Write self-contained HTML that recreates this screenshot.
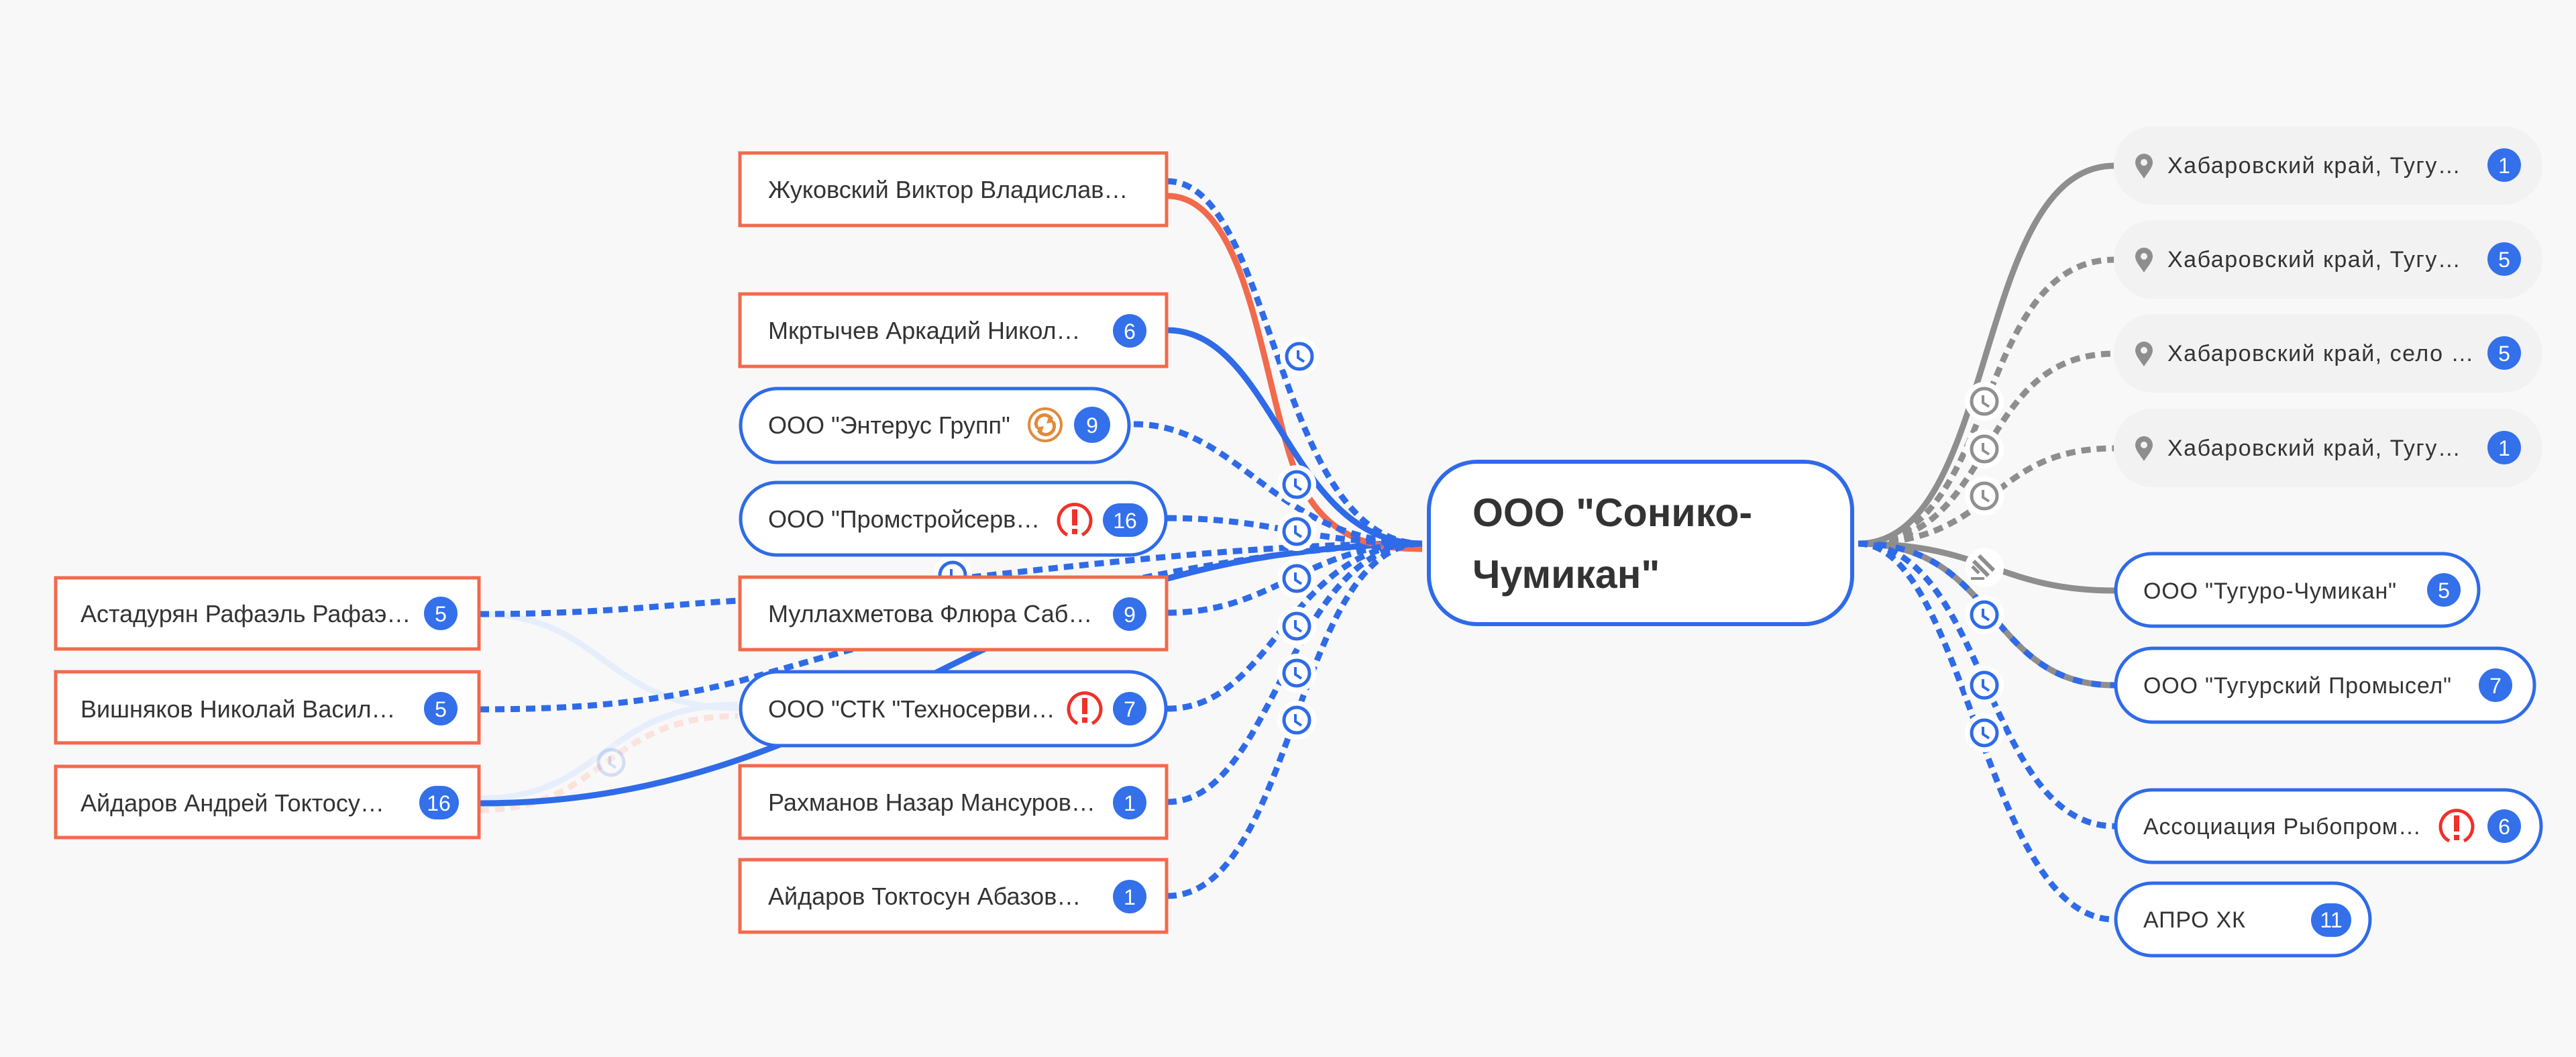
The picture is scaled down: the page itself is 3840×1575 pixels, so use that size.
<!DOCTYPE html>
<html><head><meta charset="utf-8"><style>
html,body{margin:0;padding:0;background:#f8f8f8}
svg{display:block}
text{font-family:"Liberation Sans",sans-serif}
</style></head><body>
<svg width="3840" height="1575" viewBox="0 0 3840 1575" xmlns="http://www.w3.org/2000/svg">
<defs>
<g id="clk"><circle r="29" fill="#fff"/><circle r="19" fill="#fff" stroke="#2f6be8" stroke-width="5"/><path d="M-2,-9 L-2,2 L7,8" fill="none" stroke="#2f6be8" stroke-width="4"/></g>
<g id="clkg"><circle r="29" fill="#fff"/><circle r="19" fill="#fff" stroke="#909090" stroke-width="5"/><path d="M-2,-9 L-2,2 L7,8" fill="none" stroke="#909090" stroke-width="4"/></g>
<g id="warn"><path d="M-11,22 A24,24 0 1 1 11,22" fill="none" stroke="#f0302a" stroke-width="5"/><rect x="-4" y="-16" width="8" height="24" fill="#f0302a"/><rect x="-4" y="13" width="8" height="8" fill="#f0302a"/></g>
<g id="pin"><path d="M0,20 C-5,12 -13,4 -13,-4 A13,13 0 0 1 13,-4 C13,4 5,12 0,20Z" fill="#8e8e8e"/><circle cy="-4" r="5" fill="#f2f2f2"/></g>
</defs>
<rect width="3840" height="1575" fill="#f8f8f8"/>

<g fill="none" stroke-width="9">
<path d="M715,915 C900,915 900,1055 1100,1055" stroke="#e6eefc"/>
<path d="M715,1190 C900,1190 900,1050 1100,1050" stroke="#e6eefc"/>
<path d="M715,1207 C900,1207 900,1067 1100,1067" stroke="#fbe2dc" stroke-dasharray="14,9"/>
</g>
<use href="#clk" x="911" y="1136" opacity="0.18"/>

<g fill="none" stroke-width="9" stroke-linecap="butt">
<path d="M715,915 C900,915 1000,900 1102,895 C1500,860 1800,810 2120,810" stroke="#2f6be8" stroke-dasharray="14,9"/>
<path d="M715,1057 C900,1057 1000,1040 1102,1015 C1400,930 1800,815 2120,810" stroke="#2f6be8" stroke-dasharray="14,9"/>
<path d="M715,1197 C1000,1197 1200,1100 1400,1000 C1600,900 1800,815 2120,810" stroke="#2f6be8"/>
<path d="M1740,270 C1900,270 1900,810 2120,810" stroke="#2f6be8" stroke-dasharray="14,9"/>
<path d="M1740,292 C1860,292 1880,560 1930,700 C1970,800 2040,818 2120,818" stroke="#f26a4c"/>
<path d="M1740,492 C1900,492 1920,810 2120,810" stroke="#2f6be8"/>
<path d="M1690,632 C1850,632 1900,810 2120,810" stroke="#2f6be8" stroke-dasharray="14,9"/>
<path d="M1740,772 C1900,772 1950,810 2120,810" stroke="#2f6be8" stroke-dasharray="14,9"/>
<path d="M1740,913 C1900,913 1950,810 2120,810" stroke="#2f6be8" stroke-dasharray="14,9"/>
<path d="M1740,1056 C1900,1056 1920,810 2120,810" stroke="#2f6be8" stroke-dasharray="14,9"/>
<path d="M1740,1195 C1900,1195 1920,810 2120,810" stroke="#2f6be8" stroke-dasharray="14,9"/>
<path d="M1740,1335 C1930,1335 1930,810 2120,810" stroke="#2f6be8" stroke-dasharray="14,9"/>
</g>
<use href="#clk" x="1937" y="531"/>
<use href="#clk" x="1933" y="722"/>
<use href="#clk" x="1933" y="792"/>
<use href="#clk" x="1933" y="862"/>
<use href="#clk" x="1933" y="933"/>
<use href="#clk" x="1933" y="1003"/>
<use href="#clk" x="1933" y="1073"/>
<use href="#clk" x="1420" y="857"/>

<g fill="none" stroke-width="9">
<path d="M2770,810 C2980,810 2940,247 3152,247" stroke="#8e8e8e"/>
<path d="M2770,810 C2980,810 2940,387 3152,387" stroke="#8e8e8e" stroke-dasharray="14,9"/>
<path d="M2770,810 C2980,810 2940,527 3152,527" stroke="#8e8e8e" stroke-dasharray="14,9"/>
<path d="M2770,810 C2980,810 2960,668 3152,668" stroke="#8e8e8e" stroke-dasharray="14,9"/>
<path d="M2770,810 C2960,810 2980,880 3152,880" stroke="#8e8e8e"/>
<path d="M2770,810 C2980,810 2960,1021 3152,1021" stroke="#8e8e8e"/>
<path d="M2770,810 C2980,810 2960,1021 3152,1021" stroke="#2f6be8" stroke-dasharray="14,14"/>
<path d="M2770,810 C2960,810 2960,1231 3152,1231" stroke="#2f6be8" stroke-dasharray="14,9"/>
<path d="M2770,810 C2930,810 2960,1370 3152,1370" stroke="#2f6be8" stroke-dasharray="14,9"/>
</g>
<use href="#clkg" x="2958" y="598"/>
<use href="#clkg" x="2958" y="669"/>
<use href="#clkg" x="2958" y="739"/>
<g transform="translate(2958,846)"><circle r="29" fill="#fff"/><path d="M-8,-18 L14,4 M-16,-10 L6,12" stroke="#8e8e8e" stroke-width="6"/><path d="M-18,-2 L-8,8" stroke="#8e8e8e" stroke-width="5"/><path d="M-20,16 L0,16" stroke="#8e8e8e" stroke-width="4"/></g>
<use href="#clk" x="2958" y="916"/>
<use href="#clk" x="2958" y="1021"/>
<use href="#clk" x="2958" y="1092"/>

<g font-size="36" fill="#333">
<rect x="83" y="861" width="631" height="106" fill="#fff" stroke="#f26a4c" stroke-width="5"/>
<text x="120" y="927">Астадурян Рафаэль Рафаэ…</text>
<rect x="83" y="1001" width="631" height="106" fill="#fff" stroke="#f26a4c" stroke-width="5"/>
<text x="120" y="1069">Вишняков Николай Васил…</text>
<rect x="83" y="1142" width="631" height="106" fill="#fff" stroke="#f26a4c" stroke-width="5"/>
<text x="120" y="1209">Айдаров Андрей Токтосу…</text>
</g>
<g fill="#3370ea"><circle cx="657" cy="914" r="25"/><circle cx="657" cy="1056" r="25"/><rect x="625" y="1171" width="59" height="50" rx="25"/></g>
<g font-size="32" fill="#fff" text-anchor="middle"><text x="657" y="926">5</text><text x="657" y="1068">5</text><text x="654" y="1208">16</text></g>

<g font-size="36" fill="#333">
<rect x="1103" y="228" width="636" height="108" fill="#fff" stroke="#f26a4c" stroke-width="5"/>
<text x="1145" y="295">Жуковский Виктор Владислав…</text>
<rect x="1103" y="438" width="636" height="108" fill="#fff" stroke="#f26a4c" stroke-width="5"/>
<text x="1145" y="505">Мкртычев Аркадий Никол…</text>
<rect x="1104" y="579" width="579" height="110" rx="55" fill="#fff" stroke="#2f6be8" stroke-width="5"/>
<text x="1145" y="646">ООО "Энтерус Групп"</text>
<rect x="1104" y="719" width="634" height="108" rx="54" fill="#fff" stroke="#2f6be8" stroke-width="5"/>
<text x="1145" y="786">ООО "Промстройсерв…</text>
<rect x="1103" y="860" width="636" height="108" fill="#fff" stroke="#f26a4c" stroke-width="5"/>
<text x="1145" y="927">Муллахметова Флюра Саб…</text>
<rect x="1104" y="1001" width="634" height="110" rx="55" fill="#fff" stroke="#2f6be8" stroke-width="5"/>
<text x="1145" y="1069">ООО "СТК "Техносерви…</text>
<rect x="1103" y="1141" width="636" height="108" fill="#fff" stroke="#f26a4c" stroke-width="5"/>
<text x="1145" y="1208">Рахманов Назар Мансуров…</text>
<rect x="1103" y="1281" width="636" height="108" fill="#fff" stroke="#f26a4c" stroke-width="5"/>
<text x="1145" y="1348">Айдаров Токтосун Абазов…</text>
</g>
<g fill="#3370ea">
<circle cx="1684" cy="493" r="25"/><circle cx="1628" cy="633" r="27"/>
<rect x="1644" y="750" width="67" height="50" rx="25"/>
<circle cx="1684" cy="915" r="25"/><circle cx="1684" cy="1056" r="25"/>
<circle cx="1684" cy="1196" r="25"/><circle cx="1684" cy="1336" r="25"/>
</g>
<g font-size="32" fill="#fff" text-anchor="middle">
<text x="1684" y="505">6</text><text x="1628" y="645">9</text><text x="1677" y="787">16</text>
<text x="1684" y="927">9</text><text x="1684" y="1068">7</text><text x="1684" y="1208">1</text><text x="1684" y="1348">1</text>
</g>
<g transform="translate(1558,633)"><circle r="24" fill="none" stroke="#e08a3a" stroke-width="4"/><path d="M-12,4 A12,12 0 0 1 10,-8 M12,-4 A12,12 0 0 1 -10,8" fill="none" stroke="#e08a3a" stroke-width="5"/><path d="M6,-14 L14,-4 L2,-2Z M-6,14 L-14,4 L-2,2Z" fill="#e08a3a"/></g>
<use href="#warn" x="1602" y="775"/>
<use href="#warn" x="1617" y="1056"/>

<rect x="2130" y="688" width="631" height="242" rx="72" fill="#fff" stroke="#2f6be8" stroke-width="6"/>
<g font-size="59" font-weight="bold" fill="#333"><text x="2195" y="784">ООО "Сонико-</text><text x="2195" y="876">Чумикан"</text></g>

<g fill="#f2f2f2">
<rect x="3151" y="188" width="639" height="117" rx="58"/>
<rect x="3151" y="328" width="639" height="117" rx="58"/>
<rect x="3151" y="468" width="639" height="117" rx="58"/>
<rect x="3151" y="609" width="639" height="117" rx="58"/>
</g>
<use href="#pin" x="3196" y="246"/><use href="#pin" x="3196" y="386"/><use href="#pin" x="3196" y="526"/><use href="#pin" x="3196" y="667"/>
<g fill="#fff" stroke="#2f6be8" stroke-width="5">
<rect x="3154" y="825" width="541" height="108" rx="54"/>
<rect x="3154" y="966" width="624" height="110" rx="55"/>
<rect x="3154" y="1177" width="634" height="108" rx="54"/>
<rect x="3154" y="1316" width="379" height="108" rx="54"/>
</g>
<g font-size="34" fill="#333" letter-spacing="1.5">
<text x="3231" y="258">Хабаровский край, Тугу…</text>
<text x="3231" y="398">Хабаровский край, Тугу…</text>
<text x="3231" y="538">Хабаровский край, село …</text>
<text x="3231" y="679">Хабаровский край, Тугу…</text>
</g>
<g font-size="34" fill="#333" letter-spacing="0.8">
<text x="3195" y="892">ООО "Тугуро-Чумикан"</text>
<text x="3195" y="1033">ООО "Тугурский Промысел"</text>
<text x="3195" y="1243">Ассоциация Рыбопром…</text>
<text x="3195" y="1382">АПРО ХК</text>
</g>
<g fill="#3370ea">
<circle cx="3733" cy="246" r="25"/><circle cx="3733" cy="386" r="25"/><circle cx="3733" cy="526" r="25"/><circle cx="3733" cy="667" r="25"/>
<circle cx="3643" cy="879" r="25"/><circle cx="3720" cy="1021" r="25"/><circle cx="3733" cy="1231" r="25"/>
<rect x="3445" y="1346" width="60" height="50" rx="25"/>
</g>
<g font-size="32" fill="#fff" text-anchor="middle">
<text x="3733" y="258">1</text><text x="3733" y="398">5</text><text x="3733" y="538">5</text><text x="3733" y="679">1</text>
<text x="3643" y="891">5</text><text x="3720" y="1033">7</text><text x="3733" y="1243">6</text><text x="3475" y="1382">11</text>
</g>
<use href="#warn" x="3662" y="1231"/>
</svg>
</body></html>
